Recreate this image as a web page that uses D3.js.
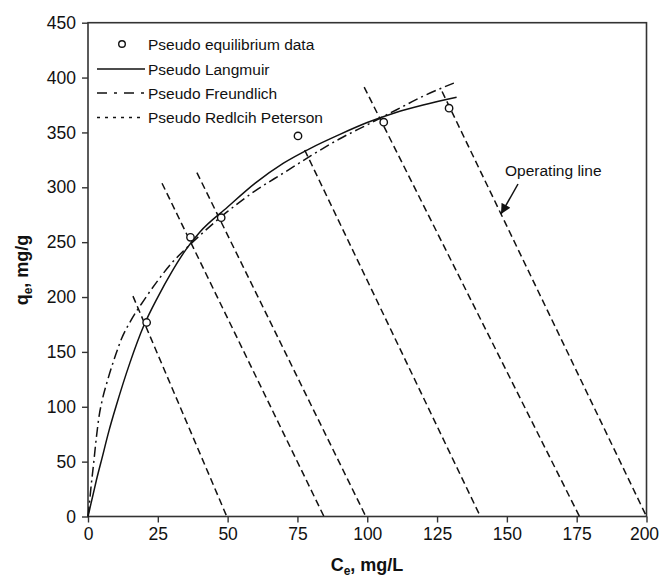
<!DOCTYPE html>
<html><head><meta charset="utf-8">
<script src="https://cdn.jsdelivr.net/npm/d3@7"></script>
<style>
html,body{margin:0;padding:0;background:#fff;}
svg{display:block;font-family:"Liberation Sans",Arial,sans-serif;}
</style></head>
<body><svg id="c" width="660" height="584"></svg>
<script>
// ---- data ----
const xTicks = [0,25,50,75,100,125,150,175,200];
const yTicks = [0,50,100,150,200,250,300,350,400,450];
const dataC = [21, 36.7, 47.7, 75.2, 105.9, 129.3];
const dataQ = [176.8, 254.4, 272.3, 346.8, 359.3, 372.1];
const langC = [0,1,2,3,5,7.5,10,15,20,25,30,35,40,50,60,70,80,90,100,110,120,132];
const langQ = [0,11,22,33,53,78,100,140,174,200,223,243,259,282,304,322,336,348,359,368,375,382];
const freC = [0,0.5,1,2,3,4,5,7,10,12,15,20,25,30,35,40,50,60,70,80,90,100,110,120,131];
const freQ = [0,12,25,48,72,92,105,124,148,162,177,197,215,231,244,256,278,297,313,329,344,357,370,383,395];
// operating lines: top point -> x-intercept
const opTopC = [16.1, 26.5, 39.0, 77.6, 98.9, 126.8];
const opTopQ = [200.8, 303.7, 313.4, 334.0, 391.3, 387.3];
const opEndC = [49.7, 84.5, 99.5, 140.5, 176.0, 200.0];
const legendLabels = ["Pseudo equilibrium data","Pseudo Langmuir","Pseudo Freundlich","Pseudo Redlcih Peterson"];

const svg = d3.select("#c");
const x = d3.scaleLinear().domain([0,200]).range([88,646.5]);
const y = d3.scaleLinear().domain([0,450]).range([516.5,22.7]);
const ink = "#111";

// axes
const xa = svg.append("g").attr("transform",`translate(0,${y(0)})`)
  .call(d3.axisBottom(x).tickValues(xTicks).tickSize(6).tickSizeOuter(0).tickPadding(5));
const ya = svg.append("g").attr("transform",`translate(${x(0)},0)`)
  .call(d3.axisLeft(y).tickValues(yTicks).tickSize(6).tickSizeOuter(0).tickPadding(6));
[xa,ya].forEach(a=>{
  a.select(".domain").remove();
  a.selectAll("line").attr("stroke","#333").attr("stroke-width",1.4);
  a.selectAll("text").attr("fill",ink).style("font-size","17.5px")
   .style("font-family","'Liberation Sans',Arial,sans-serif");
});
xa.selectAll(".tick").filter(d=>d===200).select("text").attr("dx",-2.5);

// frame
svg.append("rect").attr("x",x(0)).attr("y",y(450))
  .attr("width",x(200)-x(0)).attr("height",y(0)-y(450))
  .attr("fill","none").attr("stroke","#333").attr("stroke-width",1.6);

const g = svg.append("g");

// operating lines
opTopC.forEach((c,i)=>{
  g.append("line")
    .attr("x1",x(c)).attr("y1",y(opTopQ[i]))
    .attr("x2",x(opEndC[i])).attr("y2",y(0))
    .attr("stroke",ink).attr("stroke-width",1.5).attr("stroke-dasharray","7,4");
});

const line = d3.line().curve(d3.curveMonotoneX);
// Freundlich
g.append("path").attr("d",line(freC.map((c,i)=>[x(c),y(freQ[i])])))
  .attr("fill","none").attr("stroke",ink).attr("stroke-width",1.5)
  .attr("stroke-dasharray","10,4,2,4");
// Langmuir
g.append("path").attr("d",line(langC.map((c,i)=>[x(c),y(langQ[i])])))
  .attr("fill","none").attr("stroke",ink).attr("stroke-width",1.5);

// data points
g.selectAll("circle.pt").data(dataC).enter().append("circle")
  .attr("cx",(d)=>x(d)).attr("cy",(d,i)=>y(dataQ[i])).attr("r",3.7)
  .attr("fill","#fff").attr("stroke",ink).attr("stroke-width",1.4);

// legend
const lg = svg.append("g");
const rowY = [44, 69, 93, 117.5];
lg.append("circle").attr("cx",122).attr("cy",rowY[0]).attr("r",3.3)
  .attr("fill","#fff").attr("stroke",ink).attr("stroke-width",1.4);
const dashes = [null,"none","10,7,3,7","3,5"];
[1,2,3].forEach(i=>{
  lg.append("line").attr("x1",97).attr("x2",145).attr("y1",rowY[i]).attr("y2",rowY[i])
    .attr("stroke",ink).attr("stroke-width",1.4)
    .attr("stroke-dasharray",dashes[i]==="none"?null:dashes[i]);
});
legendLabels.forEach((t,i)=>{
  lg.append("text").attr("x",148).attr("y",rowY[i]).attr("dy","0.36em")
    .attr("fill",ink).style("font-size","15.5px").text(t);
});

// annotation
svg.append("defs").append("marker").attr("id","ah").attr("viewBox","0 0 10 10")
  .attr("refX",10).attr("refY",5).attr("markerWidth",11).attr("markerHeight",10)
  .attr("markerUnits","userSpaceOnUse").attr("orient","auto")
  .append("path").attr("d","M0,0L10,5L0,10Z").attr("fill",ink);
svg.append("line").attr("x1",518).attr("y1",184).attr("x2",501).attr("y2",214)
  .attr("stroke",ink).attr("stroke-width",1.5).attr("marker-end","url(#ah)");
svg.append("text").attr("x",505).attr("y",170).attr("dy","0.36em")
  .attr("fill",ink).style("font-size","15.5px").text("Operating line");

// axis titles
const xt = svg.append("text").attr("x",367).attr("y",571).attr("text-anchor","middle")
  .attr("fill",ink).style("font-size","18px").style("font-weight","bold");
xt.append("tspan").text("C");
xt.append("tspan").attr("dy",4).style("font-size","12px").text("e");
xt.append("tspan").attr("dy",-4).text(", mg/L");
const yt = svg.append("text").attr("transform","translate(28,270) rotate(-90)")
  .attr("text-anchor","middle").attr("fill",ink)
  .style("font-size","18px").style("font-weight","bold");
yt.append("tspan").text("q");
yt.append("tspan").attr("dy",4).style("font-size","12px").text("e");
yt.append("tspan").attr("dy",-4).text(", mg/g");
</script></body></html>
